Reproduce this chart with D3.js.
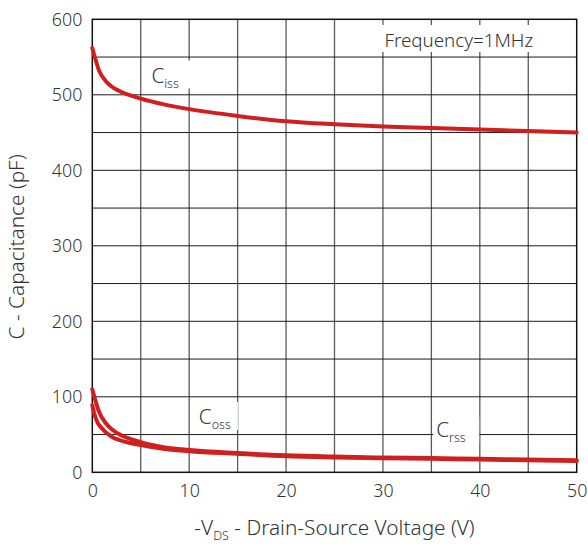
<!DOCTYPE html>
<html><head><meta charset="utf-8">
<script src="https://cdn.jsdelivr.net/npm/d3@7"></script>
<style>body{margin:0;background:#fff}svg{display:block}text{font-family:"Noto Sans",sans-serif;font-weight:300;fill:#333}</style>
</head><body><svg id="c" width="588" height="547"></svg>
<script>
const xTicks = [0,10,20,30,40,50];
const yTicks = [0,100,200,300,400,500,600];
const cissV = [0,0.3,0.7,1.4,2,2.8,5,7.5,10,15,20,25,30,35,40,45,50];
const cissC = [562,548,532,518,511,505,495,487,481,472,465,461,458,456,454,452,450];
const cossV = [0,0.3,0.7,1.4,2.1,3,5,7.5,10,15,20,25,30,35,40,45,50];
const cossC = [110,96,80,65,56,49,40,33,29.5,25.5,22.5,20.8,19.6,18.8,17.8,17,16];
const crssV = [0,0.2,0.5,1,2,3,5,7.5,10,15,20,25,30,35,40,45,50];
const crssC = [89,78,67,58,47,42,36,31,28,24.5,21.2,19.6,18.6,17.8,16.8,16,15];

const svg = d3.select('#c');
const L=92.3,R=576.7,T=19.3,B=472.3;
const x = d3.scaleLinear().domain([0,50]).range([L,R]);
const y = d3.scaleLinear().domain([0,600]).range([B,T]);

// grid
svg.append('g').selectAll('line').data(d3.range(5,50,5)).join('line')
  .attr('x1',d=>x(d)).attr('x2',d=>x(d)).attr('y1',T).attr('y2',B)
  .attr('stroke','#5a5a5a').attr('stroke-width',1.3);
svg.append('g').selectAll('line').data(d3.range(50,600,50)).join('line')
  .attr('x1',L).attr('x2',R).attr('y1',d=>y(d)).attr('y2',d=>y(d))
  .attr('stroke','#1a1a1a').attr('stroke-width',1);
svg.append('rect').attr('x',L).attr('y',T).attr('width',R-L).attr('height',B-T)
  .attr('fill','none').attr('stroke','#111').attr('stroke-width',1.5);

// axes (labels only)
const xa = svg.append('g').attr('transform',`translate(0,${B})`)
  .call(d3.axisBottom(x).tickValues(xTicks).tickSize(0).tickPadding(12));
const ya = svg.append('g').attr('transform',`translate(${L},0)`)
  .call(d3.axisLeft(y).tickValues(yTicks).tickSize(0).tickPadding(10));
[xa,ya].forEach(a=>{a.select('.domain').remove();a.selectAll('text').attr('font-size',17.8).attr('fill','#333').attr('font-weight',300).attr('font-family','"Noto Sans",sans-serif');});

// curves
const series = [[cissV,cissC],[cossV,cossC],[crssV,crssC]];
const line = d3.line().x(d=>x(d[0])).y(d=>y(d[1])).curve(d3.curveMonotoneX);
series.forEach(([v,c])=>{
  svg.append('path').datum(v.map((d,i)=>[d,c[i]])).attr('d',line)
    .attr('fill','none').attr('stroke','#cf1f1f').attr('stroke-width',4).attr('stroke-linecap','round');
});

// labels with white boxes
function lbl(xv,yv,main,sub,box){
  svg.append('rect').attr('x',x(xv)+box[0]).attr('y',y(yv)+box[1]).attr('width',box[2]).attr('height',box[3]).attr('fill','#fff');
  const t = svg.append('text').attr('x',x(xv)).attr('y',y(yv)).attr('font-size',20.5);
  t.append('tspan').text(main);
  if(sub) t.append('tspan').attr('font-size',12.5).attr('dy',5).text(sub);
}
lbl(6.1,515,'C','iss',[-3,-23,42,28]);
lbl(11,64,'C','oss',[-3,-22,42,28]);
lbl(35.5,47,'C','rss',[-3,-20,46,26]);
svg.append('rect').attr('x',x(29.9)).attr('y',25).attr('width',158).attr('height',27).attr('fill','#fff');
svg.append('text').attr('x',x(30.15)).attr('y',47).attr('font-size',18.8).text('Frequency=1MHz');

// axis titles
const xt = svg.append('text').attr('x',(L+R)/2).attr('y',535).attr('text-anchor','middle').attr('font-size',20.8);
xt.append('tspan').text('-V');
xt.append('tspan').attr('font-size',12.5).attr('dy',5).text('DS');
xt.append('tspan').attr('dy',-5).text(' - Drain-Source Voltage (V)');
svg.append('text').attr('transform',`translate(24,${(T+B)/2+1}) rotate(-90)`).attr('text-anchor','middle').attr('font-size',20.8).text('C - Capacitance (pF)');
</script></body></html>
